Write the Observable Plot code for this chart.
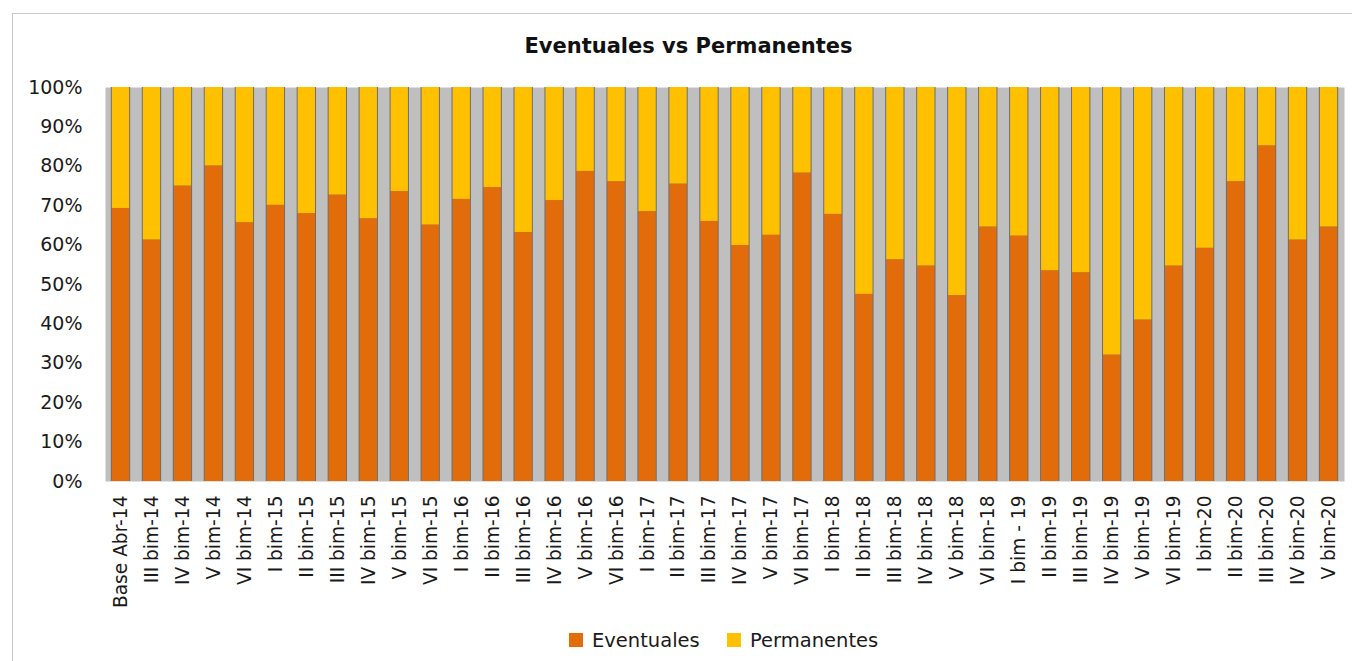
<!DOCTYPE html>
<html><head><meta charset="utf-8">
<script src="https://cdn.jsdelivr.net/npm/d3@7"></script>
<script src="https://cdn.jsdelivr.net/npm/@observablehq/plot@0.6"></script>
<style>
body{margin:0;background:#fff;font-family:"DejaVu Sans",sans-serif;}
#wrap{position:relative;width:1352px;height:661px;overflow:hidden;}
#frame{position:absolute;left:12px;top:13px;width:1400px;height:700px;border:1px solid #C8C8C8;box-sizing:border-box;}
#title{position:absolute;left:0;width:1377px;top:34px;text-align:center;font-weight:bold;font-size:21px;color:#111;}
#chart{position:absolute;left:0;top:0;}
#legend{position:absolute;top:626px;left:0;width:1352px;height:28px;font-size:19.5px;color:#1a1a1a;white-space:nowrap;}
#legend .sw{display:inline-block;width:14px;height:14px;margin-right:9px;}
#legend .item{position:absolute;top:0;display:flex;align-items:center;height:28px;}
</style>
</head><body>
<div id="wrap">
  <div id="frame"></div>
  <div id="title">Eventuales vs Permanentes</div>
  <div id="chart"></div>
  <div id="legend"></div>
</div>
<script>
const categories = ["Base Abr-14","III bim-14","IV bim-14","V bim-14","VI bim-14","I bim-15","II bim-15","III bim-15","IV bim-15","V bim-15","VI bim-15","I bim-16","II bim-16","III bim-16","IV bim-16","V bim-16","VI bim-16","I bim-17","II bim-17","III bim-17","IV bim-17","V bim-17","VI bim-17","I bim-18","II bim-18","III bim-18","IV bim-18","V bim-18","VI bim-18","I bim - 19","II bim-19","III bim-19","IV bim-19","V bim-19","VI bim-19","I bim-20","II bim-20","III bim-20","IV bim-20","V bim-20"];
const eventuales = [69.3,61.3,75.0,80.1,65.7,70.1,68.0,72.7,66.7,73.6,65.1,71.6,74.6,63.2,71.3,78.7,76.1,68.5,75.5,66.0,59.9,62.5,78.3,67.8,47.5,56.3,54.7,47.2,64.6,62.3,53.5,53.0,32.1,41.0,54.7,59.2,76.1,85.2,61.3,64.6];
const permanentes = [30.7,38.7,25.0,19.9,34.3,29.9,32.0,27.3,33.3,26.4,34.9,28.4,25.4,36.8,28.7,21.3,23.9,31.5,24.5,34.0,40.1,37.5,21.7,32.2,52.5,43.7,45.3,52.8,35.4,37.7,46.5,47.0,67.9,59.0,45.3,40.8,23.9,14.8,38.7,35.4];
const series = ["Eventuales","Permanentes"];
const colors = ["#E36C0A","#FFC000"];
const yTicks = [0,10,20,30,40,50,60,70,80,90,100];

const data = [];
categories.forEach((c,i)=>{
  data.push({cat:c, serie:series[0], value:eventuales[i]});
  data.push({cat:c, serie:series[1], value:permanentes[i]});
});
const totals = categories.map((c,i)=>({cat:c, total:eventuales[i]+permanentes[i]}));

const chart = Plot.plot({
  width:1352, height:620,
  marginLeft:105, marginRight:8, marginTop:87, marginBottom:139,
  style:{fontFamily:"'DejaVu Sans', sans-serif", fontSize:"18px", color:"#1a1a1a", background:"transparent"},
  x:{type:"band", domain:categories, paddingInner:0.44, paddingOuter:0.22},
  y:{domain:[0,100]},
  color:{domain:series, range:colors},
  marks:[
    Plot.frame({fill:"#BFBFBF", stroke:null}),
    Plot.barY(totals,{x:"cat", y:"total", fill:"#6e6e6e", insetLeft:-1, insetRight:-1, ariaLabel:"shadow"}),
    Plot.barY(data,{x:"cat", y:"value", fill:"serie"}),
    Plot.axisY({ticks:yTicks, tickSize:0, tickPadding:23, tickFormat:d=>d+"%", label:null, fontSize:19}),
    Plot.axisX({tickSize:0, tickRotate:-90, tickPadding:14, label:null, fontSize:18.6})
  ]
});
const svg = d3.select(chart);
const defs = svg.insert("defs",":first-child");
defs.append("filter").attr("id","blur").attr("x","-50%").attr("width","200%")
  .append("feGaussianBlur").attr("stdDeviation",1.6);
svg.select('g[aria-label="shadow"]').attr("filter","url(#blur)").attr("opacity",0.45);
document.getElementById("chart").appendChild(chart);

const legend = document.getElementById("legend");
const legendLeft = [569, 727];
series.forEach((s,i)=>{
  const it = document.createElement("span"); it.className="item"; it.style.left = legendLeft[i]+"px";
  const sw = document.createElement("span"); sw.className="sw"; sw.style.background=colors[i];
  it.appendChild(sw); it.appendChild(document.createTextNode(s));
  legend.appendChild(it);
});
</script>
</body></html>
